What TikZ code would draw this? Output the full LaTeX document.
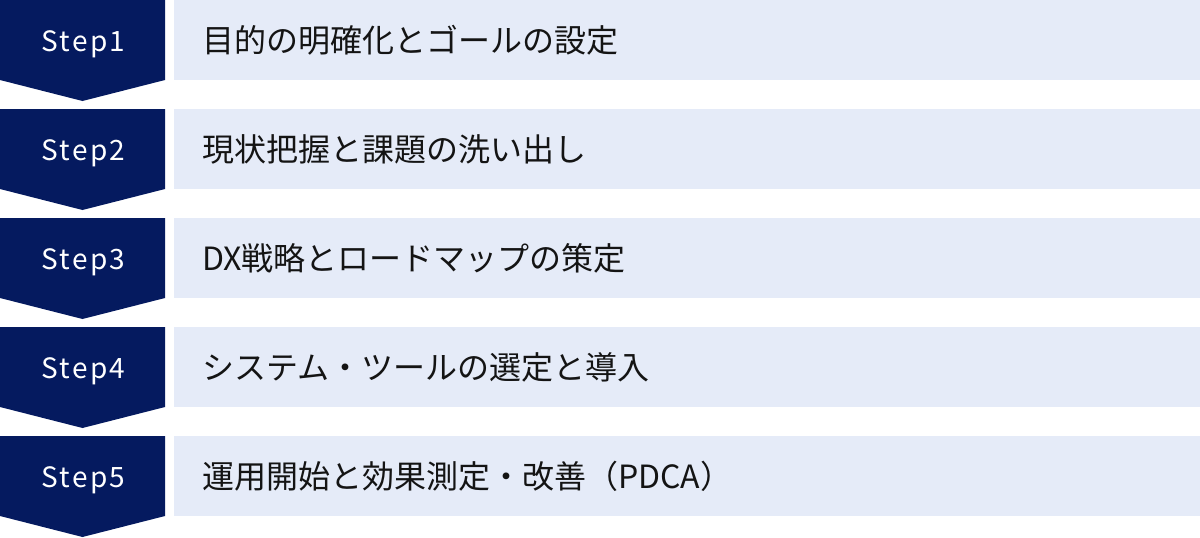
\documentclass[tikz,border=0pt]{standalone}
\usepackage{fontspec}
\setmainfont{Noto Sans CJK JP}
\newfontfamily\stepfont[LetterSpace=8]{Noto Sans CJK JP}
\definecolor{navy}{HTML}{051A5F}
\definecolor{paleblue}{HTML}{E5EBF8}

\begin{document}
\begin{tikzpicture}[x=1pt,y=-1pt,
  steplabel/.style={text=white,inner sep=0pt,font=\stepfont\fontsize{28}{32}\selectfont},
  tasktext/.style={anchor=west,inner sep=0pt,text=black!92,font=\fontsize{32}{38}\selectfont}]
\useasboundingbox (0,0) rectangle (1200,538);
\foreach \i/\t in {1/目的の明確化とゴールの設定,
                   2/現状把握と課題の洗い出し,
                   3/DX戦略とロードマップの策定,
                   4/システム・ツールの選定と導入,
                   5/運用開始と効果測定・改善（PDCA）}{
  % chevron and bar of one step
  \fill[navy] (0,{(\i-1)*109}) -- ++(165,0) -- ++(0,80) -- ++(-82.5,21) -- ++(-82.5,-21) -- cycle;
  \fill[paleblue] (174,{(\i-1)*109}) rectangle ++(1026,80);
  \node[steplabel] (step\i) at (83.5,{(\i-1)*109+44}) {Step\i};
  \node[tasktext] (task\i) at (202,{(\i-1)*109+40}) {\t};
}
\end{tikzpicture}
\end{document}
